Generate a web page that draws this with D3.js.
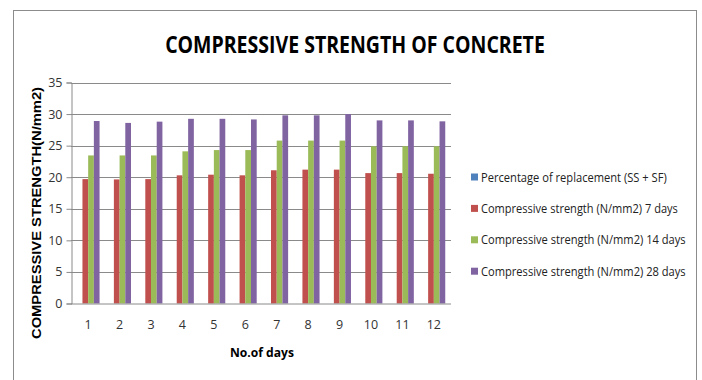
<!DOCTYPE html>
<html>
<head>
<meta charset="utf-8">
<script src="https://cdn.jsdelivr.net/npm/d3@7"></script>
<style>
  html, body { margin: 0; padding: 0; background: #fff; }
  svg { display: block; }
</style>
</head>
<body>
<svg id="chart" width="702" height="380"></svg>
<script>
// Mix numbers (x axis) and the four plotted series
const categories = ["1","2","3","4","5","6","7","8","9","10","11","12"];
const seriesNames = [
  "Percentage of replacement  (SS + SF)",
  "Compressive strength (N/mm2) 7 days",
  "Compressive strength (N/mm2) 14 days",
  "Compressive strength (N/mm2) 28 days"
];
const replacement = [0,0,0,0,0,0,0,0,0,0,0,0];
const strength7   = [19.7,19.65,19.7,20.3,20.4,20.3,21.1,21.2,21.2,20.65,20.65,20.55];
const strength14  = [23.45,23.45,23.45,24.1,24.3,24.3,25.8,25.8,25.8,24.9,24.9,24.9];
const strength28  = [28.9,28.6,28.8,29.25,29.25,29.15,29.8,29.8,30.0,29.0,29.0,28.85];
const yTicks = [0,5,10,15,20,25,30,35];
const colors = ["#4F81BD","#C0504D","#9BBB59","#8064A2"];

const seriesValues = [replacement, strength7, strength14, strength28];

const svg = d3.select("#chart");
const FONT = "'Liberation Sans Narrow','Open Sans',Arial,sans-serif";

// squeeze a text horizontally so it spans the given width, keeping its height
function condense(sel, width, anchorX) {
  sel.each(function(d, i) {
    const w = typeof width === "function" ? width(d, i) : width;
    const natural = this.getComputedTextLength();
    const k = Math.min(1, w / natural);
    const ax = +d3.select(this).attr("x") || 0;
    d3.select(this).attr("transform", `translate(${ax},0) scale(${k},1) translate(${-ax},0)`);
  });
}

// outer chart frame
svg.append("rect")
  .attr("x", 13.5).attr("y", 10.5).attr("width", 683).attr("height", 380)
  .attr("fill", "#fff").attr("stroke", "#8c8c8c").attr("stroke-width", 1);

const plot = { left: 71, right: 451, top: 82.5, bottom: 303.5 };

const x = d3.scaleBand().domain(categories).range([plot.left, plot.right]).paddingInner(0.274).paddingOuter(0.183);
const xs = d3.scaleBand().domain(d3.range(seriesNames.length)).range([0, x.bandwidth()]);
const y = d3.scaleLinear().domain([0, 35]).range([plot.bottom, plot.top]);

// horizontal gridlines
svg.append("g").selectAll("line").data(yTicks.filter(d => d > 0)).join("line")
  .attr("x1", plot.left).attr("x2", plot.right)
  .attr("y1", d => Math.round(y(d)) + 0.5).attr("y2", d => Math.round(y(d)) + 0.5)
  .attr("stroke", "#8a8a8a").attr("stroke-width", 1);

// bars
const groups = svg.append("g").selectAll("g").data(categories).join("g")
  .attr("transform", d => `translate(${x(d)},0)`);
groups.selectAll("rect")
  .data((c, i) => seriesValues.map((vals, s) => ({ s, v: vals[i] })))
  .join("rect")
  .attr("x", d => xs(d.s))
  .attr("width", xs.bandwidth())
  .attr("y", d => y(d.v))
  .attr("height", d => y(0) - y(d.v))
  .attr("fill", d => colors[d.s]);

// y axis
const yAxis = svg.append("g")
  .attr("transform", `translate(${plot.left + 0.5},0)`)
  .call(d3.axisLeft(y).tickValues(yTicks).tickSize(5).tickPadding(4));
yAxis.select(".domain").attr("stroke", "#8a8a8a");
yAxis.selectAll(".tick line").attr("stroke", "#8a8a8a");
yAxis.selectAll("text").attr("font-family", FONT).attr("font-size", 12.5).attr("fill", "#333");

// x axis
const xAxis = svg.append("g")
  .attr("transform", `translate(0,${plot.bottom})`)
  .call(d3.axisBottom(x).tickSize(0).tickPadding(17));
xAxis.select(".domain").attr("stroke", "#8a8a8a").attr("d", `M${plot.left},0.5H${plot.right}`);
xAxis.selectAll("text").attr("font-family", FONT).attr("font-size", 12.5).attr("fill", "#333");

// title
svg.append("text")
  .attr("x", 355).attr("y", 53)
  .attr("text-anchor", "middle")
  .attr("font-family", FONT).attr("font-weight", "bold").attr("font-size", 24)
  .attr("fill", "#000")
  .text("COMPRESSIVE STRENGTH OF CONCRETE")
  .call(condense, 380);

// axis titles
svg.append("text")
  .attr("x", 262).attr("y", 357)
  .attr("text-anchor", "middle")
  .attr("font-family", FONT).attr("font-weight", "bold").attr("font-size", 13)
  .attr("fill", "#000")
  .text("No.of days")
  .call(condense, 64);

svg.append("text")
  .attr("transform", "translate(41,213) rotate(-90)")
  .attr("text-anchor", "middle")
  .attr("font-family", "'Liberation Sans',Arial,sans-serif").attr("font-weight", "bold").attr("font-size", 12)
  .attr("textLength", 252).attr("lengthAdjust", "spacingAndGlyphs")
  .attr("fill", "#000")
  .text("COMPRESSIVE STRENGTH(N/mm2)");

// legend
const legendWidths = [186, 197, 205, 205];
const legend = svg.append("g").selectAll("g").data(seriesNames).join("g")
  .attr("transform", (d, i) => `translate(471,${177 + i * 31.4})`);
legend.append("rect")
  .attr("x", 0).attr("y", -3.5).attr("width", 7).attr("height", 7)
  .attr("fill", (d, i) => colors[i]);
legend.append("text")
  .attr("x", 10).attr("y", 4.5)
  .attr("font-family", FONT).attr("font-size", 13.5)
  .attr("fill", "#222")
  .text(d => d)
  .call(condense, (d, i) => legendWidths[i]);
</script>
</body>
</html>
